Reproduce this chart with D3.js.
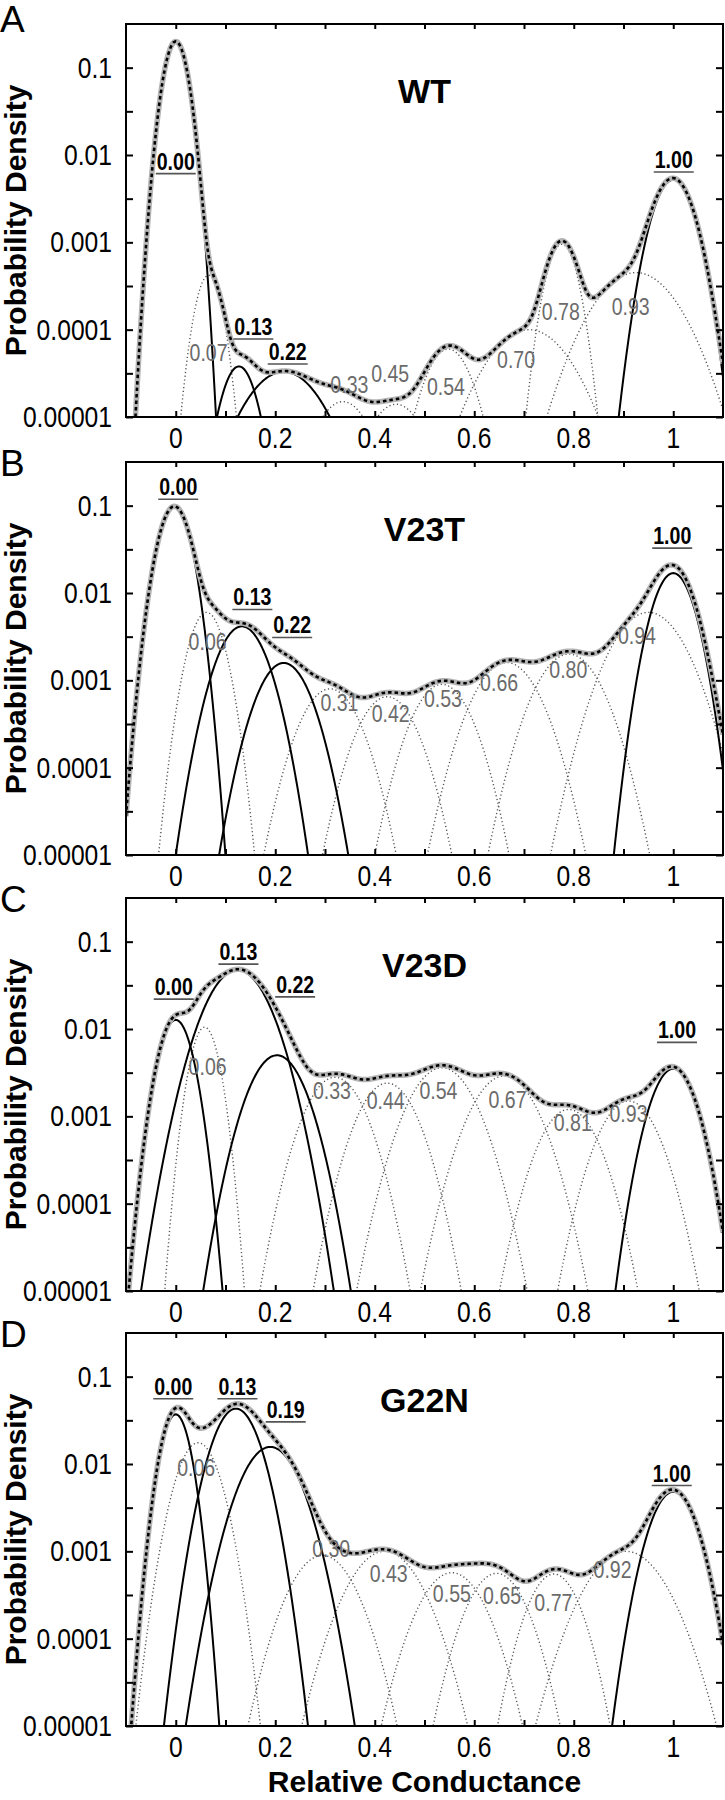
<!DOCTYPE html>
<html><head><meta charset="utf-8">
<script src="https://cdn.jsdelivr.net/npm/d3@7/dist/d3.min.js"></script>
<style>body{margin:0;background:#fff}</style>
</head><body>
<svg id="chart" width="725" height="1800"></svg>
<script>
// ---------------- DATA ----------------
const panelLetters = ["A", "B", "C", "D"];
const panelNames = ["WT", "V23T", "V23D", "G22N"];
const xTickValues = [0, 0.1, 0.2, 0.3, 0.4, 0.5, 0.6, 0.7, 0.8, 0.9, 1.0];
const xTickLabels = ["0", "", "0.2", "", "0.4", "", "0.6", "", "0.8", "", "1"];
const yTickValues = [1e-5, 3.1623e-5, 1e-4, 3.1623e-4, 1e-3, 3.1623e-3, 1e-2, 3.1623e-2, 1e-1];
const yTickLabels = ["0.00001", "", "0.0001", "", "0.001", "", "0.01", "", "0.1"];
const xTitle = "Relative Conductance";
const yTitle = "Probability Density";

// Main (solid) Gaussian components, one list per panel
const majorLabels = [["0.00","0.13","0.22","1.00"],["0.00","0.13","0.22","1.00"],["0.00","0.13","0.22","1.00"],["0.00","0.13","0.19","1.00"]];
const majorMean  = [[0.0, 0.127, 0.217, 1.0],[-0.003, 0.133, 0.217, 1.0],[0.0, 0.124, 0.2035, 1.0],[0.0, 0.121, 0.19, 1.0]];
const majorPeak  = [[0.2, 3.8e-5, 3.3e-5, 5.2e-3],[0.098, 4.15e-3, 1.58e-3, 0.0169],[0.0127, 0.0474, 5.0e-3, 3.5e-3],[0.037, 0.043, 0.0157, 4.8e-3]];
const majorSigma = [[0.0182, 0.027, 0.06, 0.031],[0.024, 0.0383, 0.0408, 0.031],[0.0249, 0.0471, 0.0421, 0.034],[0.0216, 0.0354, 0.0443, 0.035]];
const majorLabelX = [[0.0, 0.156, 0.225, 1.001],[0.005, 0.154, 0.234, 0.998],[-0.004, 0.126, 0.240, 1.0075],[-0.005, 0.124, 0.221, 0.997]];
const majorLabelY = [[6.8e-3, 8.7e-5, 4.5e-5, 7.1e-3],[0.1315, 7.2e-3, 3.44e-3, 0.0363],[0.0244, 0.0614, 0.0259, 7.8e-3],[0.0622, 0.0622, 0.0337, 6.3e-3]];

// Minor (dotted) Gaussian components
const minorLabels = [["0.07","0.33","0.45","0.54","0.70","0.78","0.93"],["0.06","0.31","0.42","0.53","0.66","0.80","0.94"],["0.06","0.33","0.44","0.54","0.67","0.81","0.93"],["0.06","0.30","0.43","0.55","0.65","0.77","0.92"]];
const minorMean  = [[0.066, 0.336, 0.443, 0.548, 0.71, 0.776, 0.925],[0.062, 0.31, 0.425, 0.535, 0.665, 0.79, 0.95],[0.058, 0.32, 0.425, 0.535, 0.66, 0.79, 0.91],[0.045, 0.295, 0.42, 0.555, 0.645, 0.76, 0.905]];
const minorPeak  = [[4.2e-4, 1.5e-5, 1.4e-5, 6.0e-5, 1.0e-4, 9.5e-4, 4.5e-4],[6.0e-3, 8.0e-4, 6.5e-4, 9.0e-4, 1.6e-3, 2.0e-3, 6.0e-3],[0.0105, 2.8e-3, 2.4e-3, 3.6e-3, 2.9e-3, 1.2e-3, 1.5e-3],[0.0175, 9.0e-4, 1.0e-3, 5.7e-4, 5.6e-4, 5.5e-4, 1.0e-3]];
const minorSigma = [[0.0205, 0.045, 0.046, 0.037, 0.065, 0.024, 0.065],[0.027, 0.045, 0.045, 0.045, 0.05, 0.05, 0.055],[0.0215, 0.045, 0.045, 0.05, 0.05, 0.045, 0.045],[0.0324, 0.05, 0.055, 0.05, 0.045, 0.04, 0.06]];
const minorLabelX = [[0.066, 0.349, 0.431, 0.543, 0.684, 0.774, 0.9145],[0.064, 0.329, 0.432, 0.537, 0.650, 0.789, 0.927],[0.064, 0.314, 0.422, 0.528, 0.667, 0.798, 0.91],[0.041, 0.3125, 0.428, 0.555, 0.656, 0.759, 0.878]];
const minorLabelY = [[4.4e-5, 1.9e-5, 2.49e-5, 1.8e-5, 3.66e-5, 1.3e-4, 1.48e-4],[2.2e-3, 4.5e-4, 3.3e-4, 5.0e-4, 7.6e-4, 1.07e-3, 2.64e-3],[3.0e-3, 1.56e-3, 1.2e-3, 1.6e-3, 1.26e-3, 6.8e-4, 8.7e-4],[7.2e-3, 8.5e-4, 4.4e-4, 2.6e-4, 2.5e-4, 2.07e-4, 5.0e-4]];

// ---------------- LAYOUT ----------------
const svg = d3.select("#chart");
const left = 126, right = 723, ph = 393;
const tops = [24, 462, 898, 1333];
const x = d3.scaleLinear().domain([-0.1, 1.1]).range([left, right]);
const grid = d3.range(0, 601).map(i => -0.1 + i * 0.002);
const FONT = "'Liberation Sans', Arial, Helvetica, sans-serif";
const SQ = 0.85; // horizontal squeeze for the condensed number labels

function gauss(m, p, s) { return v => p * Math.exp(-(v - m) * (v - m) / (2 * s * s)); }

function narrowText(parent, px, py, str, anchor, size, weight, fill) {
  return parent.append("text")
    .attr("transform", `translate(${px},${py}) scale(${SQ},1)`)
    .attr("text-anchor", anchor)
    .style("font-family", FONT).style("font-size", size + "px")
    .style("font-weight", weight).attr("fill", fill).text(str);
}

panelNames.forEach((name, pi) => {
  const top = tops[pi];
  const y = d3.scaleLog().domain([1e-5, Math.pow(10, -0.5)]).range([top + ph, top]);
  const g = svg.append("g");
  const clipId = "clip" + pi;
  svg.append("clipPath").attr("id", clipId).append("rect")
    .attr("x", left).attr("y", top).attr("width", right - left).attr("height", ph);

  const majors = majorMean[pi].map((m, k) => gauss(m, majorPeak[pi][k], majorSigma[pi][k]));
  const minors = minorMean[pi].map((m, k) => gauss(m, minorPeak[pi][k], minorSigma[pi][k]));
  const all = majors.concat(minors);

  const line = d3.line().x(d => x(d[0])).y(d => y(Math.max(d[1], 1e-7)));
  const plot = g.append("g").attr("clip-path", `url(#${clipId})`);

  minors.forEach(f => {
    const pts = grid.map(v => [v, f(v)]).filter(d => d[1] > 3e-6);
    plot.append("path").attr("d", line(pts)).attr("fill", "none")
      .attr("stroke", "#555").attr("stroke-width", 1.4).attr("stroke-dasharray", "1.2,2.6");
  });
  majors.forEach(f => {
    const pts = grid.map(v => [v, f(v)]).filter(d => d[1] > 3e-6);
    plot.append("path").attr("d", line(pts)).attr("fill", "none")
      .attr("stroke", "#000").attr("stroke-width", 2);
  });
  const sumPts = grid.map(v => [v, d3.sum(all, f => f(v))]);
  plot.append("path").attr("d", line(sumPts)).attr("fill", "none")
    .attr("stroke", "#b4b4b4").attr("stroke-width", 5.5).attr("stroke-linejoin", "round");
  plot.append("path").attr("d", line(sumPts)).attr("fill", "none")
    .attr("stroke", "#000").attr("stroke-width", 2.6).attr("stroke-dasharray", "3.5,3");

  const bottom = d3.axisBottom(x).tickValues(xTickValues).tickSize(-6).tickFormat("");
  const topAx = d3.axisTop(x).tickValues(xTickValues).tickSize(-5).tickFormat("");
  const leftAx = d3.axisLeft(y).tickValues(yTickValues).tickSize(-7).tickFormat("");
  const rightAx = d3.axisRight(y).tickValues(yTickValues).tickSize(-7).tickFormat("");
  [[bottom, `translate(0,${top + ph})`], [topAx, `translate(0,${top})`],
   [leftAx, `translate(${left},0)`], [rightAx, `translate(${right},0)`]].forEach(([ax, tr]) => {
    const a = g.append("g").attr("transform", tr).call(ax);
    a.select(".domain").remove();
    a.selectAll(".tick line").attr("stroke", "#000").attr("stroke-width", 2);
    a.selectAll(".tick text").remove();
  });

  xTickValues.forEach((v, i) => {
    if (xTickLabels[i]) narrowText(g, x(v), top + ph + 31, xTickLabels[i], "middle", 29, "normal", "#000");
  });
  yTickValues.forEach((v, i) => {
    if (yTickLabels[i]) narrowText(g, left - 14, y(v) + 10, yTickLabels[i], "end", 29, "normal", "#000");
  });

  g.append("rect").attr("x", left).attr("y", top).attr("width", right - left).attr("height", ph)
    .attr("fill", "none").attr("stroke", "#000").attr("stroke-width", 2);

  g.append("text").attr("x", x(0.5)).attr("y", top + 79).attr("text-anchor", "middle")
    .style("font-family", FONT).style("font-weight", "bold").style("font-size", "34px").text(name);

  g.append("text").attr("x", 0).attr("y", pi === 0 ? 32 : top + 14)
    .style("font-family", FONT).style("font-size", "37px").text(panelLetters[pi]);

  g.append("text").attr("transform", `translate(26,${top + ph / 2}) rotate(-90)`)
    .attr("text-anchor", "middle").style("font-family", FONT).style("font-weight", "bold")
    .style("font-size", "30px").text(yTitle);

  majorLabels[pi].forEach((lab, k) => {
    const lx = x(majorLabelX[pi][k]), ly = y(majorLabelY[pi][k]);
    narrowText(g, lx, ly, lab, "middle", 23, "bold", "#000");
    g.append("line").attr("x1", lx - 20).attr("x2", lx + 20).attr("y1", ly + 4).attr("y2", ly + 4)
      .attr("stroke", "#555").attr("stroke-width", 1.6);
  });
  minorLabels[pi].forEach((lab, k) => {
    narrowText(g, x(minorLabelX[pi][k]), y(minorLabelY[pi][k]), lab, "middle", 23, "normal", "#6b6b6b");
  });
});

svg.append("text").attr("x", x(0.5)).attr("y", 1792).attr("text-anchor", "middle")
  .style("font-family", FONT).style("font-weight", "bold").style("font-size", "30px").text(xTitle);
</script>
</body></html>
